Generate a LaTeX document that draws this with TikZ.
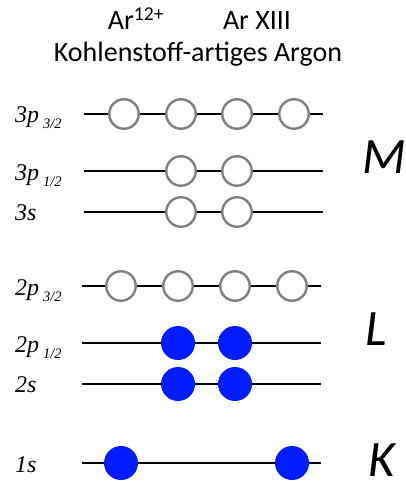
\documentclass[tikz,border=0pt]{standalone}
\usepackage{fontspec}
\setmainfont{Liberation Serif}
\newfontfamily\carlitofont{Carlito}
\definecolor{ringgray}{RGB}{128,128,128}
\definecolor{elblue}{RGB}{0,28,255}
\newcommand{\orbsub}[1]{\raisebox{-6pt}{\fontsize{14.5}{15}\selectfont\itshape #1}}
\begin{document}
\begin{tikzpicture}[x=1pt,y=-1pt,
  level/.style={line width=2.4pt,black},
  empty/.style={circle,draw=ringgray,line width=2.4pt,fill=white,minimum size=29.5pt,inner sep=0pt},
  full/.style={circle,fill=elblue,draw=none,minimum size=34pt,inner sep=0pt},
  orb/.style={font=\fontsize{24}{26}\selectfont\itshape,anchor=base west,inner sep=0pt},
  shell/.style={font=\carlitofont\fontsize{51}{53}\selectfont\itshape,anchor=base,inner sep=0pt},
  head/.style={font=\carlitofont\fontsize{28}{30}\selectfont,anchor=base,inner sep=0pt}]
\useasboundingbox (0,0) rectangle (406,481);
% titles
\node[head] (t1) at (136,30) {Ar\textsuperscript{12+}};
\node[head] (t2) at (257,30) {Ar XIII};
\node[head] (t3) at (198,62) {Kohlenstoff-artiges Argon};
% M shell
\coordinate (a1) at (84,114); \coordinate (a2) at (323,114);
\coordinate (b1) at (84,171); \coordinate (b2) at (323,171);
\coordinate (c1) at (84,212); \coordinate (c2) at (323,212);
\draw[level] (a1) -- (a2);
\draw[level] (b1) -- (b2);
\draw[level] (c1) -- (c2);
\node[empty] (a3) at (124,114) {};
\node[empty] (a4) at (181,114) {};
\node[empty] (a5) at (237,114) {};
\node[empty] (a6) at (294,114) {};
\node[empty] (b3) at (181,171) {};
\node[empty] (b4) at (237,171) {};
\node[empty] (c3) at (181,212) {};
\node[empty] (c4) at (237,212) {};
% L shell
\coordinate (d1) at (82,286); \coordinate (d2) at (321,286);
\coordinate (e1) at (82,343); \coordinate (e2) at (321,343);
\coordinate (f1) at (82,384); \coordinate (f2) at (321,384);
\draw[level] (d1) -- (d2);
\draw[level] (e1) -- (e2);
\draw[level] (f1) -- (f2);
\node[empty] (d3) at (121,286) {};
\node[empty] (d4) at (178,286) {};
\node[empty] (d5) at (235,286) {};
\node[empty] (d6) at (292,286) {};
\node[full] (e3) at (178,343) {};
\node[full] (e4) at (235,343) {};
\node[full] (f3) at (178,384) {};
\node[full] (f4) at (235,384) {};
% K shell
\coordinate (g1) at (82,463); \coordinate (g2) at (321,463);
\draw[level] (g1) -- (g2);
\node[full] (g3) at (121,463) {};
\node[full] (g4) at (292,463) {};
% orbital labels
\node[orb] (la) at (15,123) {3p\,\orbsub{3/2}};
\node[orb] (lb) at (15,180) {3p\,\orbsub{1/2}};
\node[orb] (lc) at (15,220) {3s};
\node[orb] (ld) at (15,295) {2p\,\orbsub{3/2}};
\node[orb] (le) at (15,352) {2p\,\orbsub{1/2}};
\node[orb] (lf) at (15,392) {2s};
\node[orb] (lg) at (15,472) {1s};
% shell labels
\node[shell] (M) at (384,173) {M};
\node[shell] (L) at (376,345) {L};
\node[shell] (K) at (382,476) {K};
\end{tikzpicture}
\end{document}
